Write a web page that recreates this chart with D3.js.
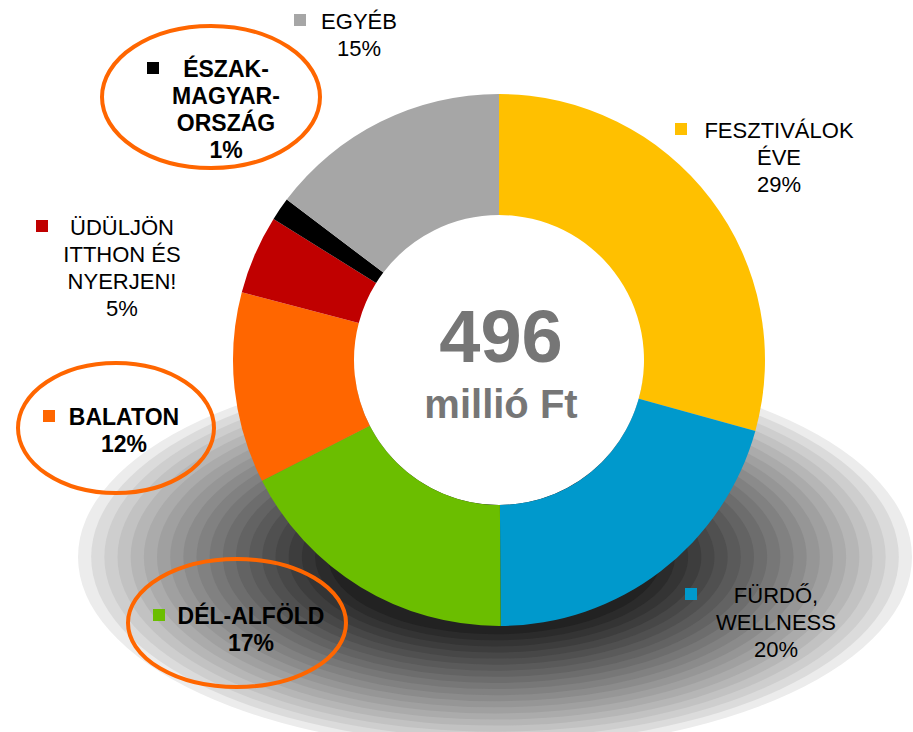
<!DOCTYPE html>
<head>
  <meta charset="utf-8">
  <script src="https://d3js.org/d3.v7.min.js"></script>
  <style type="text/css">
    body { margin: 0; background: #fff; }
    svg { display: block; }
    text { font-family: "Liberation Sans", Arial, sans-serif; fill: #000; }
  </style>
</head>

<body>
  <script type="text/javascript">
    // data (share of the 496 million Ft budget)
    var categories = ["FESZTIVÁLOK ÉVE", "FÜRDŐ, WELLNESS", "DÉL-ALFÖLD", "BALATON",
                      "ÜDÜLJÖN ITTHON ÉS NYERJEN!", "ÉSZAK-MAGYARORSZÁG", "EGYÉB"];
    var labelLines = [["FESZTIVÁLOK", "ÉVE"], ["FÜRDŐ,", "WELLNESS"], ["DÉL-ALFÖLD"], ["BALATON"],
                      ["ÜDÜLJÖN", "ITTHON ÉS", "NYERJEN!"], ["ÉSZAK-", "MAGYAR-", "ORSZÁG"], ["EGYÉB"]];
    var shares = [29.3, 20.6, 17.6, 11.6, 4.8, 1.4, 14.7];
    var pctLabels = ["29%", "20%", "17%", "12%", "5%", "1%", "15%"];
    var highlighted = [false, false, true, true, false, true, false];
    var colors = ["#FFC000", "#0099CC", "#6BBE00", "#FF6600", "#C00000", "#000000", "#A6A6A6"];
    var totalValue = "496",
        totalUnit = "millió Ft";

    var width = 913, height = 732;
    var cx = 499, cy = 360,
        outerR = 266, innerR = 145;

    // where each label sits: text centre, first baseline, marker left
    var labelPos = [
      { x: 779, y: 138, mx: 675 },
      { x: 776, y: 603, mx: 685 },
      { x: 251, y: 624, mx: 153, ell: [237, 623, 109, 64] },
      { x: 124, y: 425, mx: 43,  ell: [116, 428, 98, 65] },
      { x: 122, y: 235, mx: 36 },
      { x: 226, y: 77,  mx: 147, ell: [211, 97, 109, 71] },
      { x: 359, y: 29,  mx: 294 }
    ];
    var lineH = 27;

    var svg = d3.select("body").append("svg")
        .attr("width", width)
        .attr("height", height);

    // stepped elliptical shadow under the ring
    var bands = 20;
    var shade = d3.interpolateRgb("#ececec", "#222222");
    var shadow = svg.append("g").attr("transform", "translate(495,557)");
    shadow.selectAll("ellipse")
        .data(d3.range(bands))
      .enter().append("ellipse")
        .attr("rx", function(i) { return 417 * (1 - 0.6 * i / (bands - 1)); })
        .attr("ry", function(i) { return 193 * (1 - 0.6 * i / (bands - 1)); })
        .attr("fill", function(i) { return shade(Math.pow(i / (bands - 1), 0.85)); });

    var pie = d3.pie().sort(null).value(function(d) { return d; });
    var arc = d3.arc().innerRadius(innerR).outerRadius(outerR);

    var ring = svg.append("g").attr("transform", "translate(" + [cx, cy] + ")");
    ring.append("circle").attr("r", innerR).attr("fill", "#fff");
    ring.selectAll("path")
        .data(pie(shares))
      .enter().append("path")
        .attr("d", arc)
        .attr("fill", function(d, i) { return colors[i]; });

    ring.append("text")
        .attr("text-anchor", "middle")
        .attr("x", 2).attr("y", 2)
        .style("font-size", "74px").style("font-weight", "bold").style("fill", "#767676")
        .text(totalValue);
    ring.append("text")
        .attr("text-anchor", "middle")
        .attr("x", 2).attr("y", 58)
        .style("font-size", "40px").style("font-weight", "bold").style("fill", "#767676")
        .text(totalUnit);

    // labels
    var labels = svg.selectAll("g.label")
        .data(categories)
      .enter().append("g")
        .attr("class", "label");

    labels.each(function(name, i) {
      var g = d3.select(this), p = labelPos[i];
      var bold = highlighted[i];
      var lines = labelLines[i].concat([pctLabels[i]]);

      if (p.ell) {
        g.append("ellipse")
          .attr("cx", p.ell[0]).attr("cy", p.ell[1])
          .attr("rx", p.ell[2]).attr("ry", p.ell[3])
          .attr("fill", "none")
          .attr("stroke", "#FF6600")
          .attr("stroke-width", 4);
      }

      g.append("rect")
        .attr("x", p.mx).attr("y", p.y - 15)
        .attr("width", 12).attr("height", 12)
        .attr("fill", colors[i]);

      g.selectAll("text")
          .data(lines)
        .enter().append("text")
          .attr("text-anchor", "middle")
          .attr("x", p.x)
          .attr("y", function(d, j) { return p.y + j * lineH; })
          .style("font-size", bold ? "23px" : "22px")
          .style("font-weight", bold ? "bold" : "normal")
          .text(function(d) { return d; });
    });
  </script>
</body>
